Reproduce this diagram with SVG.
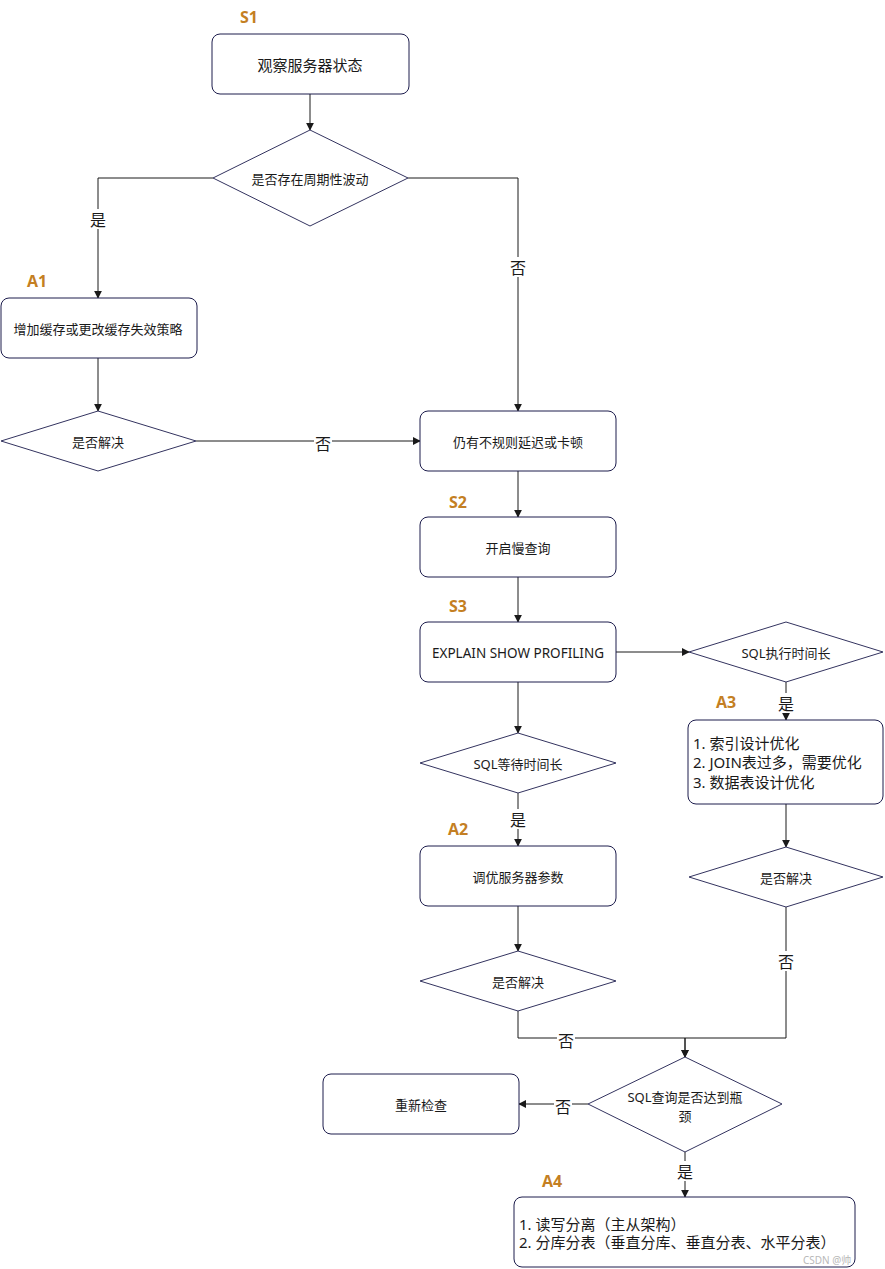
<svg xmlns="http://www.w3.org/2000/svg" width="885" height="1269" viewBox="0 0 885 1269">
<defs>
<marker id="arr" viewBox="0 0 10 10" refX="9" refY="5" markerWidth="8" markerHeight="8" markerUnits="userSpaceOnUse" orient="auto">
<path d="M0,0 L10,5 L0,10 Z" fill="#1a1a1a"/>
</marker>
<style>
.box{fill:#ffffff;stroke:#1c1c4c;stroke-width:1}
.dia{fill:#ffffff;stroke:#33335f;stroke-width:1}
.t{font-family:"Noto Sans","Noto Sans CJK SC",sans-serif;font-size:13px;fill:#1a1a1a;text-anchor:middle;dominant-baseline:central}
.tl{font-family:"Noto Sans","Noto Sans CJK SC",sans-serif;font-size:15px;fill:#1a1a1a;text-anchor:start;dominant-baseline:central}
.e{stroke:#1a1a1a;stroke-width:1;fill:none}
.lb{font-family:"Noto Sans CJK SC",sans-serif;font-size:16px;fill:#1a1a1a;text-anchor:middle;dominant-baseline:central}
.lbg{fill:#ffffff}
.step{font-family:"Open Sans","Noto Sans",sans-serif;font-size:16px;font-weight:bold;fill:#c47f23;text-anchor:middle;dominant-baseline:central}
.wm{font-family:"Noto Sans","Noto Sans CJK SC",sans-serif;font-size:10px;fill:#b8b8b8}
</style>
</defs>
<rect width="885" height="1269" fill="#ffffff"/>

<g id="connectors">
<path class="e" d="M310,94 L310,130" marker-end="url(#arr)"/>
<path class="e" d="M213,178 L98,178 L98,298" marker-end="url(#arr)"/>
<path class="e" d="M408,178 L518,178 L518,411" marker-end="url(#arr)"/>
<path class="e" d="M98,358 L98,411" marker-end="url(#arr)"/>
<path class="e" d="M196,441 L420,441" marker-end="url(#arr)"/>
<path class="e" d="M518,471 L518,517" marker-end="url(#arr)"/>
<path class="e" d="M518,577 L518,622" marker-end="url(#arr)"/>
<path class="e" d="M616,652 L689,652" marker-end="url(#arr)"/>
<path class="e" d="M518,682 L518,733" marker-end="url(#arr)"/>
<path class="e" d="M786,682 L786,720" marker-end="url(#arr)"/>
<path class="e" d="M786,804 L786,847" marker-end="url(#arr)"/>
<path class="e" d="M518,793 L518,846" marker-end="url(#arr)"/>
<path class="e" d="M518,906 L518,951" marker-end="url(#arr)"/>
<path class="e" d="M518,1011 L518,1038 L685,1038 L685,1057" marker-end="url(#arr)"/>
<path class="e" d="M786,907 L786,1038 L685,1038 L685,1057" marker-end="url(#arr)"/>
<path class="e" d="M588,1104 L519,1104" marker-end="url(#arr)"/>
<path class="e" d="M685,1152 L685,1197" marker-end="url(#arr)"/>

<rect class="lbg" x="89" y="209" width="18" height="20"/>
<text class="lb" x="98" y="219">是</text>
<rect class="lbg" x="509" y="257" width="18" height="20"/>
<text class="lb" x="518" y="267">否</text>
<rect class="lbg" x="314" y="433" width="18" height="20"/>
<text class="lb" x="323" y="443">否</text>
<rect class="lbg" x="777" y="693" width="18" height="20"/>
<text class="lb" x="786" y="703">是</text>
<rect class="lbg" x="509" y="809" width="18" height="20"/>
<text class="lb" x="518" y="819">是</text>
<rect class="lbg" x="777" y="951" width="18" height="20"/>
<text class="lb" x="786" y="961">否</text>
<rect class="lbg" x="557" y="1030" width="18" height="20"/>
<text class="lb" x="566" y="1040">否</text>
<rect class="lbg" x="554" y="1096" width="18" height="20"/>
<text class="lb" x="563" y="1106">否</text>
<rect class="lbg" x="676" y="1161" width="18" height="20"/>
<text class="lb" x="685" y="1171">是</text>
</g>

<g id="labels">
<text class="step" x="249" y="17">S1</text>
<text class="step" x="37" y="281">A1</text>
<text class="step" x="458" y="502">S2</text>
<text class="step" x="458" y="606">S3</text>
<text class="step" x="726" y="702">A3</text>
<text class="step" x="458" y="829">A2</text>
<text class="step" x="552" y="1181">A4</text>
</g>

<g id="n_s1">
<rect class="box" x="212" y="34" width="197" height="60" rx="8"/>
<text class="t" x="310" y="65" style="font-size:15px">观察服务器状态</text>
</g>
<g id="n_periodic">
<polygon class="dia" points="310,130 408,178 310,226 213,178"/>
<text class="t" x="310" y="179">是否存在周期性波动</text>
</g>
<g id="n_a1">
<rect class="box" x="1" y="298" width="196" height="60" rx="8"/>
<text class="t" x="98" y="329">增加缓存或更改缓存失效策略</text>
</g>
<g id="n_solved1">
<polygon class="dia" points="98,411 196,441 98,471 1,441"/>
<text class="t" x="98" y="442">是否解决</text>
</g>
<g id="n_irregular">
<rect class="box" x="420" y="411" width="196" height="60" rx="8"/>
<text class="t" x="518" y="442">仍有不规则延迟或卡顿</text>
</g>
<g id="n_s2">
<rect class="box" x="420" y="517" width="196" height="60" rx="8"/>
<text class="t" x="518" y="548">开启慢查询</text>
</g>
<g id="n_s3">
<rect class="box" x="420" y="622" width="196" height="60" rx="8"/>
<text class="t" x="518" y="653" style="font-size:13.5px">EXPLAIN SHOW PROFILING</text>
</g>
<g id="n_exec">
<polygon class="dia" points="786,622 883,652 786,682 689,652"/>
<text class="t" x="786" y="653">SQL执行时间长</text>
</g>
<g id="n_a3">
<rect class="box" x="688" y="720" width="195" height="84" rx="8"/>
<text class="tl" x="693" y="743">1. 索引设计优化</text>
<text class="tl" x="693" y="762">2. JOIN表过多，需要优化</text>
<text class="tl" x="693" y="782">3. 数据表设计优化</text>
</g>
<g id="n_solved3">
<polygon class="dia" points="786,847 883,877 786,907 689,877"/>
<text class="t" x="786" y="878">是否解决</text>
</g>
<g id="n_wait">
<polygon class="dia" points="518,733 616,763 518,793 420,763"/>
<text class="t" x="518" y="764">SQL等待时间长</text>
</g>
<g id="n_a2">
<rect class="box" x="420" y="846" width="196" height="60" rx="8"/>
<text class="t" x="518" y="877">调优服务器参数</text>
</g>
<g id="n_solved2">
<polygon class="dia" points="518,951 616,981 518,1011 420,981"/>
<text class="t" x="518" y="982">是否解决</text>
</g>
<g id="n_bottleneck">
<polygon class="dia" points="685,1057 782,1104 685,1152 588,1104"/>
<text class="t" x="685" y="1097">SQL查询是否达到瓶</text>
<text class="t" x="685" y="1116">颈</text>
</g>
<g id="n_recheck">
<rect class="box" x="323" y="1074" width="196" height="60" rx="8"/>
<text class="t" x="421" y="1105">重新检查</text>
</g>
<g id="n_a4">
<rect class="box" x="514" y="1197" width="341" height="70" rx="8"/>
<text class="tl" x="519" y="1224">1. 读写分离（主从架构）</text>
<text class="tl" x="519" y="1242">2. 分库分表（垂直分库、垂直分表、水平分表）</text>
</g>
<text class="wm" x="803" y="1264">CSDN @帅</text>
</svg>
